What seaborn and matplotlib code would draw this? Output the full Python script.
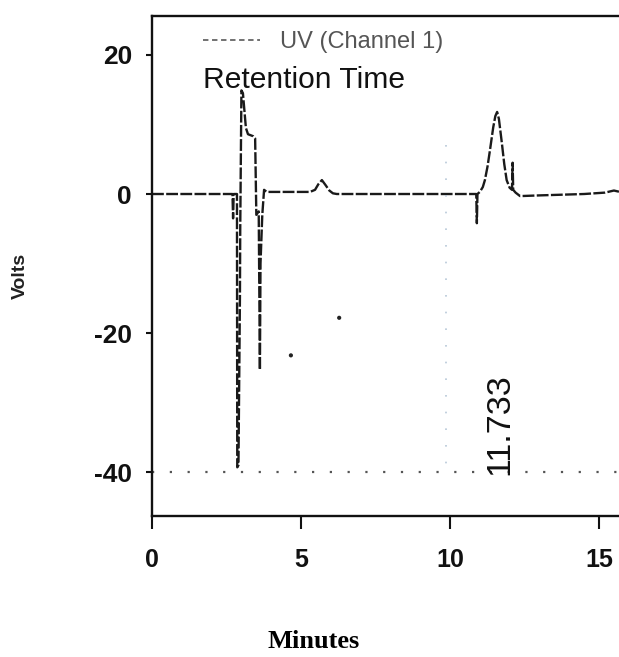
import matplotlib
matplotlib.use("Agg")
import matplotlib.pyplot as plt
from matplotlib.lines import Line2D
import pandas as pd
import seaborn as sns

# chromatogram trace (minutes, volts)
time_min = [
    0.0, 2.70, 2.72, 2.74, 2.85, 2.86, 2.90, 2.95, 2.96, 3.00,
    3.05, 3.10, 3.15, 3.22, 3.40, 3.46, 3.50, 3.58, 3.62, 3.64,
    3.70, 3.76, 3.85, 4.50, 5.30, 5.47, 5.58, 5.70, 5.82, 5.95,
    6.07, 6.20, 8.00, 10.88, 10.90, 10.92, 11.00, 11.10, 11.17, 11.26,
    11.34, 11.45, 11.52, 11.58, 11.64, 11.74, 11.82, 11.90, 12.00, 12.08,
    12.10, 12.12, 12.20, 12.35, 13.00, 14.50, 15.20, 15.50, 15.70,
]
volts = [
    0.0, 0.0, -3.5, 0.0, 0.0, -39.3, -39.0, -14.8, -5.0, 14.9,
    14.5, 12.0, 9.5, 8.6, 8.3, 8.0, -3.0, -2.5, -25.3, -10.0,
    -3.0, 0.6, 0.3, 0.3, 0.3, 0.6, 1.4, 2.0, 1.3, 0.5,
    0.1, 0.0, 0.0, 0.0, -4.2, 0.0, 0.3, 1.0, 2.0, 4.0,
    6.3, 9.6, 11.2, 11.8, 10.8, 7.3, 4.3, 2.0, 0.9, 0.6,
    4.5, 0.6, 0.2, -0.3, -0.2, 0.0, 0.2, 0.5, 0.3,
]
stray_t = [4.66, 6.28]
stray_v = [-23.2, -17.8]
ref_level = -40
marker_t = 9.85
marker_top = 7
peak_label = "11.733"
peak_label_t = 11.68
peak_label_v = -33.1
x_ticks = [0, 5, 10, 15]
y_ticks = [20, 0, -20, -40]


def main() -> None:
    sns.set_theme(style="white")
    plt.rcParams["font.family"] = ["Liberation Sans", "DejaVu Sans"]

    df = pd.DataFrame({"t": time_min, "v": volts})

    fig = plt.figure(figsize=(6.19, 6.57), dpi=100)
    ax = fig.add_axes([0.2456, 0.2146, 0.7544, 0.7611])

    sns.lineplot(data=df, x="t", y="v", ax=ax, sort=False, estimator=None,
                 color="#1a1a1a", linewidth=1.7, dashes=False)
    ax.lines[-1].set_dashes((5, 1.0))

    ax.axhline(ref_level, color="#555555", linewidth=1.6, linestyle=(0, (1, 7)))
    ax.plot([marker_t, marker_t], [marker_top, ref_level], color="#b8c8d8",
            linewidth=1.2, linestyle=(0, (1, 9)))
    sns.scatterplot(x=stray_t, y=stray_v, ax=ax, color="#222222", s=9,
                    edgecolor="none")

    ax.text(peak_label_t, peak_label_v, peak_label, rotation=90,
            ha="center", va="center", fontsize=24.5, color="#111111")

    ax.set_xlim(0, 15.67)
    ax.set_ylim(-46.3, 25.6)
    ax.set_xticks(x_ticks)
    ax.set_yticks(y_ticks)
    ax.set_xticklabels([str(t) for t in x_ticks], fontsize=18,
                       fontweight="bold")
    ax.set_yticklabels([str(t) for t in y_ticks], fontsize=19,
                       fontweight="bold")
    ax.tick_params(axis="x", direction="out", length=9, width=1.5, pad=14,
                   bottom=True, colors="#111111")
    ax.tick_params(axis="y", direction="out", length=4.5, width=1.5, pad=10,
                   left=True, colors="#111111")
    ax.set_xlabel("")
    ax.set_ylabel("")

    ax.spines["right"].set_visible(False)
    for side in ("top", "left", "bottom"):
        ax.spines[side].set_color("#111111")
        ax.spines[side].set_linewidth(1.7)

    handle = Line2D([], [], color="#666666", linewidth=1.3,
                    linestyle=(0, (3, 2)))
    leg = fig.legend([handle], ["UV (Channel 1)"], loc="center left",
                     bbox_to_anchor=(0.328, 0.936), frameon=False,
                     fontsize=17, handlelength=2.4, handletextpad=0.85,
                     borderpad=0, borderaxespad=0)
    for txt in leg.get_texts():
        txt.set_color("#555555")

    fig.text(0.328, 0.866, "Retention Time", fontsize=21.6, color="#111111",
             ha="left", va="baseline")
    fig.text(0.033, 0.58, "Volts", rotation=90, fontsize=14,
             fontweight="bold", ha="center", va="center", color="#222222")
    fig.text(0.507, 0.014, "Minutes", fontsize=19, fontweight="bold",
             family=["Liberation Serif", "DejaVu Serif"],
             ha="center", va="baseline", color="#000000")

    fig.savefig("out.png", dpi=100)
    plt.close(fig)


if __name__ == "__main__":
    main()
